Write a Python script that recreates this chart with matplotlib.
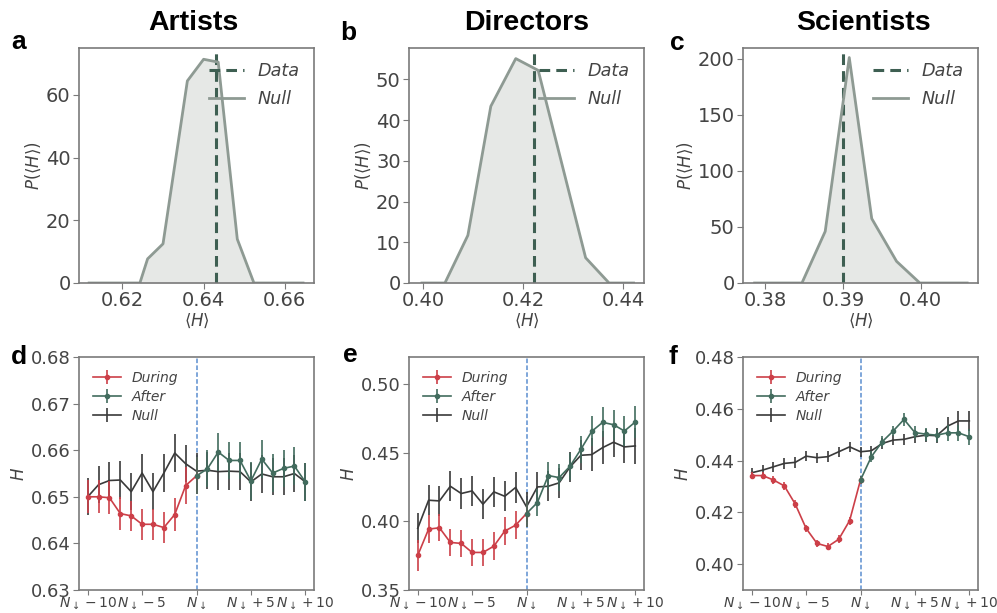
import numpy as np
import matplotlib.pyplot as plt

# ---- histogram panels (null distribution of <H>) ----
art_hx = [0.6118, 0.6243, 0.6262, 0.6300, 0.6360, 0.6400, 0.6436, 0.6483, 0.6524, 0.6645]
art_hy = [0, 0, 7.7, 12.5, 64.5, 71.4, 70.5, 14.0, 0, 0]
art_data = 0.6431

dir_hx = [0.3997, 0.4043, 0.4089, 0.4135, 0.4185, 0.4230, 0.4325, 0.4372, 0.4421]
dir_hy = [0, 0, 11.7, 43.4, 55.1, 52.2, 6.2, 0, 0]
dir_data = 0.4222

sci_hx = [0.3786, 0.3847, 0.3877, 0.3908, 0.3937, 0.3969, 0.3999, 0.4060]
sci_hy = [0, 0, 46, 201, 57.4, 19.3, 0, 0]
sci_data = 0.3900

# ---- time series panels ----
x_during = np.arange(-10, 1)
x_after = np.arange(0, 11)
x_null = np.arange(-10, 11)

art_during = [0.6500, 0.6500, 0.6498, 0.6464, 0.6459, 0.6441, 0.6441, 0.6434, 0.6462, 0.6524, 0.6545]
art_during_err = [0.0035, 0.0035, 0.0035, 0.0035, 0.0033, 0.0033, 0.0033, 0.0033, 0.0035, 0.004, 0.004]
art_after = [0.6545, 0.6560, 0.6596, 0.6578, 0.6578, 0.6534, 0.6581, 0.6551, 0.6561, 0.6566, 0.6532]
art_after_err = [0.004] * 11
art_null = [0.6500, 0.6526, 0.6535, 0.6536, 0.6511, 0.6551, 0.6511, 0.6551, 0.6594, 0.6571, 0.6555,
            0.6557, 0.6554, 0.6555, 0.6554, 0.6532, 0.6549, 0.6543, 0.6543, 0.6550, 0.6532]
art_null_err = [0.004] * 21

dir_during = [0.3752, 0.3944, 0.3954, 0.3847, 0.3840, 0.3774, 0.3774, 0.3820, 0.3930, 0.3973, 0.4058]
dir_during_err = [0.011, 0.010, 0.010, 0.010, 0.010, 0.010, 0.010, 0.010, 0.010, 0.010, 0.010]
dir_after = [0.4058, 0.4138, 0.4335, 0.4320, 0.4403, 0.4527, 0.4658, 0.4723, 0.4706, 0.4660, 0.4726]
dir_after_err = [0.010, 0.010, 0.010, 0.010, 0.010, 0.010, 0.011, 0.011, 0.011, 0.011, 0.012]
dir_null = [0.3950, 0.4155, 0.4150, 0.4257, 0.4204, 0.4223, 0.4126, 0.4216, 0.4184, 0.4248, 0.4107,
            0.4252, 0.4257, 0.4282, 0.4398, 0.4483, 0.4488, 0.4539, 0.4578, 0.4544, 0.4551]
dir_null_err = [0.011] * 16 + [0.012, 0.012, 0.011, 0.012, 0.013]

sci_during = [0.4342, 0.4342, 0.4325, 0.4302, 0.4232, 0.4138, 0.4080, 0.4068, 0.4096, 0.4168, 0.4325]
sci_during_err = [0.0015] * 11
sci_after = [0.4325, 0.4415, 0.4473, 0.4514, 0.4559, 0.4508, 0.4502, 0.4498, 0.4507, 0.4507, 0.4492]
sci_after_err = [0.0015, 0.002, 0.002, 0.002, 0.0025, 0.0025, 0.0025, 0.0025, 0.003, 0.003, 0.003]
sci_null = [0.4353, 0.4363, 0.4376, 0.4389, 0.4393, 0.4417, 0.4411, 0.4415, 0.4434, 0.4453, 0.4434,
            0.4438, 0.4466, 0.4479, 0.4482, 0.4492, 0.4498, 0.4496, 0.4533, 0.4553, 0.4553]
sci_null_err = [0.002] * 15 + [0.0025, 0.0025, 0.003, 0.0035, 0.004, 0.004]

titles = ["Artists", "Directors", "Scientists"]
letters_top = ["a", "b", "c"]
letters_bot = ["d", "e", "f"]
tick_pos = [-10, -5, 0, 5, 10]
tick_lab = [r"$N_\downarrow-10$", r"$N_\downarrow-5$", r"$N_\downarrow$",
            r"$N_\downarrow+5$", r"$N_\downarrow+10$"]

c_fill = "#e6e8e6"
c_null_hist = "#8e9a93"
c_data = "#3e5f52"
c_during = "#cc3f48"
c_after = "#426c5e"
c_null = "#3a3a3a"
c_spine = "#7a7a7a"
c_text = "#444444"

fig = plt.figure(figsize=(9.97, 6.13), dpi=100)

lefts = [79 / 997, 409 / 997, 743 / 997]
w = 235 / 997
top_ax = [fig.add_axes([l, 1 - 283 / 613, w, 235 / 613]) for l in lefts]
bot_ax = [fig.add_axes([l, 1 - 590 / 613, w, 233 / 613]) for l in lefts]


def style(ax, size):
    for s in ax.spines.values():
        s.set_color(c_spine)
        s.set_linewidth(1.2)
    ax.tick_params(colors=c_spine, labelcolor=c_text, labelsize=size, length=4, pad=2)


hists = [(art_hx, art_hy, art_data), (dir_hx, dir_hy, dir_data), (sci_hx, sci_hy, sci_data)]
xlims = [(0.6093, 0.6672), (0.3971, 0.4442), (0.3771, 0.4074)]
ylims = [(0, 75), (0, 57.7), (0, 209.5)]
xticks = [[0.62, 0.64, 0.66], [0.40, 0.42, 0.44], [0.38, 0.39, 0.40]]
yticks = [[0, 20, 40, 60], [0, 10, 20, 30, 40, 50], [0, 50, 100, 150, 200]]
xtl = [["0.62", "0.64", "0.66"], ["0.40", "0.42", "0.44"], ["0.38", "0.39", "0.40"]]

for i, ax in enumerate(top_ax):
    hx, hy, d = hists[i]
    ax.fill_between(hx, hy, 0, color=c_fill, lw=0)
    ax.axvline(d, color=c_data, ls="--", lw=2.2, dashes=(3.5, 2), label="Data")
    ax.plot(hx, hy, color=c_null_hist, lw=2, label="Null")
    ax.set_xlim(*xlims[i])
    ax.set_ylim(*ylims[i])
    ax.set_xticks(xticks[i])
    ax.set_xticklabels(xtl[i])
    ax.set_yticks(yticks[i])
    style(ax, 14)
    ax.set_xlabel(r"$\langle H\rangle$", fontsize=12, color=c_text, labelpad=1)
    ax.set_ylabel(r"$P(\langle H\rangle)$", fontsize=12, color=c_text, labelpad=2)
    leg = ax.legend(loc="upper right", frameon=False, prop={"style": "italic", "size": 12.7},
                    handlelength=2.0, borderaxespad=0.4, labelspacing=0.55)
    for t in leg.get_texts():
        t.set_color(c_text)

series = [
    (art_during, art_during_err, art_after, art_after_err, art_null, art_null_err),
    (dir_during, dir_during_err, dir_after, dir_after_err, dir_null, dir_null_err),
    (sci_during, sci_during_err, sci_after, sci_after_err, sci_null, sci_null_err),
]
b_ylims = [(0.63, 0.68), (0.35, 0.52), (0.39, 0.48)]
b_yticks = [[0.63, 0.64, 0.65, 0.66, 0.67, 0.68], [0.35, 0.40, 0.45, 0.50],
            [0.40, 0.42, 0.44, 0.46, 0.48]]

for i, ax in enumerate(bot_ax):
    dur, dure, aft, afte, nul, nule = series[i]
    ax.axvline(0, color="#5b8ed0", ls="--", lw=1.1, dashes=(3, 1.5))
    ax.errorbar(x_during, dur, yerr=dure, color=c_during, marker="o", ms=3, lw=1.2,
                elinewidth=1.2, label="During", zorder=3)
    ax.errorbar(x_after, aft, yerr=afte, color=c_after, marker="o", ms=3, lw=1.2,
                elinewidth=1.2, label="After", zorder=3)
    ax.errorbar(x_null, nul, yerr=nule, color=c_null, lw=1.2, elinewidth=1.2,
                label="Null", zorder=2)
    ax.set_xlim(-10.8, 10.8)
    ax.set_ylim(*b_ylims[i])
    ax.set_yticks(b_yticks[i])
    ax.set_xticks(tick_pos)
    ax.set_xticklabels(tick_lab)
    style(ax, 13)
    ax.tick_params(axis="x", labelsize=10, pad=0, length=3.5)
    ax.set_ylabel(r"$H$", fontsize=12, color=c_text, labelpad=2)
    leg = ax.legend(loc="upper left", frameon=False, prop={"style": "italic", "size": 10},
                    handlelength=2.0, borderaxespad=0.6, labelspacing=0.37)
    for t in leg.get_texts():
        t.set_color(c_text)

tfont = {"family": ["Liberation Sans", "DejaVu Sans"], "weight": "bold", "size": 20.5}
lfont = {"family": ["Liberation Sans", "DejaVu Sans"], "weight": "bold", "size": 19}
for x, t in zip([193, 527, 863], titles):
    fig.text(x / 997, 1 - 23 / 613, t, ha="center", va="center", fontdict=tfont)
for (x, y), t in zip([(19, 42), (348, 33), (677, 43)], letters_top):
    fig.text(x / 997, 1 - y / 613, t, ha="center", va="center", fontdict=lfont)
for (x, y), t in zip([(19, 357), (350, 355), (673, 357)], letters_bot):
    fig.text(x / 997, 1 - y / 613, t, ha="center", va="center", fontdict=lfont)

fig.savefig("out.png", dpi=100)
